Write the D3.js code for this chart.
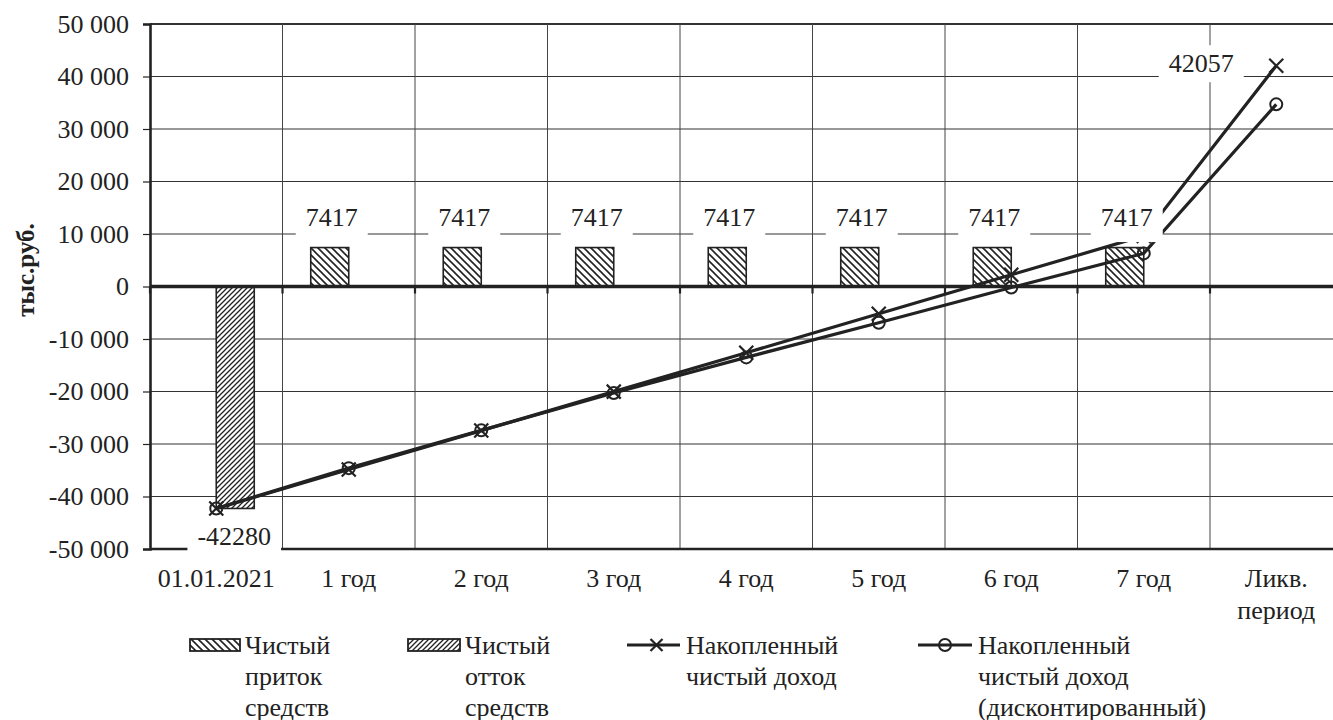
<!DOCTYPE html>
<html><head><meta charset="utf-8">
<script src="https://cdn.jsdelivr.net/npm/d3@7"></script>
<style>
html,body{margin:0;padding:0;background:#fff;}
svg{display:block;}
text{font-family:"Liberation Serif","Times New Roman",serif;fill:#222;}
</style></head>
<body>
<svg id="chart" width="1333" height="720"></svg>
<script>
const categories = ["01.01.2021","1 год","2 год","3 год","4 год","5 год","6 год","7 год","Ликв. период"];
const inflow  = [null,7417,7417,7417,7417,7417,7417,7417,null];
const outflow = [-42280,null,null,null,null,null,null,null,null];
const cumulative = [-42280,-34863,-27446,-20029,-12612,-5195,2222,9639,42057];
const discounted = [-42280,-34600,-27400,-20300,-13500,-6900,-200,6300,34700];
const yTicks = [-50000,-40000,-30000,-20000,-10000,0,10000,20000,30000,40000,50000];
const legendItems = [
  {type:"inflow", lines:["Чистый","приток","средств"]},
  {type:"outflow", lines:["Чистый","отток","средств"]},
  {type:"cum", lines:["Накопленный","чистый доход"]},
  {type:"disc", lines:["Накопленный","чистый доход","(дисконтированный)"]}
];

const svg = d3.select("#chart");
const L = 150, R = 1342.5, T = 24, B = 549;
const ink = "#222";
const fs = 26;

const x = d3.scaleBand().domain(categories).range([L,R]).padding(0);
const x1 = d3.scaleBand().domain(["inflow","outflow"]).range([0,x.bandwidth()]).paddingInner(0).paddingOuter(0.743);
const y = d3.scaleLinear().domain([-50000,50000]).range([B,T]);
const loc = d3.formatLocale({decimal:",",thousands:" ",grouping:[3],currency:["",""],minus:"-"});
const fmt = loc.format(",");

// patterns
const defs = svg.append("defs");
const p1 = defs.append("pattern").attr("id","pIn").attr("patternUnits","userSpaceOnUse").attr("width",7).attr("height",7);
p1.append("rect").attr("width",7).attr("height",7).attr("fill","#fff");
p1.append("path").attr("d","M-2,-2 L9,9 M-2,5 L2,9 M5,-2 L9,2").attr("stroke",ink).attr("stroke-width",1.6);
const p2 = defs.append("pattern").attr("id","pOut").attr("patternUnits","userSpaceOnUse").attr("width",5).attr("height",5);
p2.append("rect").attr("width",5).attr("height",5).attr("fill","#fff");
p2.append("path").attr("d","M-1,6 L6,-1 M-2,2 L2,-2 M3,7 L7,3").attr("stroke",ink).attr("stroke-width",1.3);

// horizontal gridlines
svg.append("g").selectAll("line").data(yTicks).join("line")
  .attr("x1",L).attr("x2",R).attr("y1",d=>y(d)).attr("y2",d=>y(d))
  .attr("stroke","#333").attr("stroke-width",d=>d===50000?1.8:1.1);
// vertical gridlines at category boundaries
svg.append("g").selectAll("line").data(categories.slice(1)).join("line")
  .attr("x1",d=>x(d)).attr("x2",d=>x(d)).attr("y1",T).attr("y2",B)
  .attr("stroke","#444").attr("stroke-width",1);

// bars
svg.append("g").selectAll("rect").data(categories.map((c,i)=>({c,v:inflow[i]})).filter(d=>d.v!=null)).join("rect")
  .attr("x",d=>x(d.c)+x1("inflow")).attr("width",x1.bandwidth())
  .attr("y",d=>y(d.v)).attr("height",d=>y(0)-y(d.v))
  .attr("fill","url(#pIn)").attr("stroke",ink).attr("stroke-width",1.6);
svg.append("g").selectAll("rect").data(categories.map((c,i)=>({c,v:outflow[i]})).filter(d=>d.v!=null)).join("rect")
  .attr("x",d=>x(d.c)+x1("outflow")).attr("width",x1.bandwidth())
  .attr("y",y(0)).attr("height",d=>y(d.v)-y(0))
  .attr("fill","url(#pOut)").attr("stroke",ink).attr("stroke-width",1.6);

// y axis
const yAxis = svg.append("g").attr("transform",`translate(${L},0)`)
  .call(d3.axisLeft(y).tickValues(yTicks).tickFormat(fmt).tickSize(7).tickPadding(14));
yAxis.select(".domain").attr("stroke",ink).attr("stroke-width",2.6);
yAxis.selectAll(".tick line").attr("stroke",ink).attr("stroke-width",1.2);
yAxis.selectAll(".tick text").attr("font-size",fs).attr("font-family","Liberation Serif").attr("fill",ink);

// bottom border
svg.append("line").attr("x1",L).attr("x2",R).attr("y1",B).attr("y2",B).attr("stroke",ink).attr("stroke-width",2.6);

// zero line + ticks
svg.append("line").attr("x1",L).attr("x2",R).attr("y1",y(0)).attr("y2",y(0)).attr("stroke",ink).attr("stroke-width",3.5);
svg.append("g").selectAll("line").data(categories).join("line")
  .attr("x1",d=>x(d)).attr("x2",d=>x(d)).attr("y1",y(0)).attr("y2",y(0)+7)
  .attr("stroke",ink).attr("stroke-width",2.2);

// x labels
const xl = svg.append("g").selectAll("text").data(categories).join("text")
  .attr("x",d=>x(d)+x.bandwidth()/2).attr("y",587)
  .attr("text-anchor","middle").attr("font-size",fs);
xl.each(function(d){
  const parts = d.startsWith("Ликв") ? ["Ликв.","период"] : [d];
  d3.select(this).selectAll("tspan").data(parts).join("tspan")
    .attr("x",x(d)+x.bandwidth()/2).attr("dy",(p,i)=>i?32:0).text(p=>p);
});

// lines
const cx = c => x(c)+x.bandwidth()/2;
const lineGen = d3.line().x(d=>cx(d.c)).y(d=>y(d.v));
const cumData = categories.map((c,i)=>({c,v:cumulative[i]}));
const discData = categories.map((c,i)=>({c,v:discounted[i]}));
svg.append("path").datum(cumData).attr("d",lineGen).attr("fill","none").attr("stroke",ink).attr("stroke-width",3.2);
svg.append("path").datum(discData).attr("d",lineGen).attr("fill","none").attr("stroke",ink).attr("stroke-width",3.2);
svg.append("g").selectAll("path").data(cumData).join("path")
  .attr("d",d=>{const px=cx(d.c),py=y(d.v),s=7;return `M${px-s},${py-s}L${px+s},${py+s}M${px-s},${py+s}L${px+s},${py-s}`;})
  .attr("stroke",ink).attr("stroke-width",2.2);
svg.append("g").selectAll("circle").data(discData).join("circle")
  .attr("cx",d=>cx(d.c)).attr("cy",d=>y(d.v)).attr("r",6)
  .attr("fill","none").attr("stroke",ink).attr("stroke-width",2);

// data labels with white boxes
function boxLabel(cxp, cyp, txt, padX, padTop, padBot){
  const g = svg.append("g");
  const t = g.append("text").attr("x",cxp).attr("y",cyp).attr("text-anchor","middle")
    .attr("dominant-baseline","central").attr("font-size",fs).text(txt);
  const bb = t.node().getBBox();
  g.insert("rect","text").attr("x",bb.x-padX).attr("y",bb.y-padTop).attr("width",bb.width+2*padX).attr("height",bb.height+padTop+padBot).attr("fill","#fff");
}
categories.forEach((c,i)=>{
  if(inflow[i]!=null) boxLabel(x(c)+x1("inflow")+x1.bandwidth()/2+2, y(inflow[i])-30, String(inflow[i]), 10, 3, 10);
});
boxLabel(x(categories[0])+x1("outflow")+x1.bandwidth()/2-1, y(outflow[0])+28, String(outflow[0]), 10, 4, 4);
boxLabel(cx(categories[8])-75, y(cumulative[8])-2, String(cumulative[8]), 10, 4, 4);

// y title
svg.append("text").attr("transform","translate(34,270) rotate(-90)").attr("text-anchor","middle")
  .attr("font-size",25).attr("font-weight","bold").text("тыс.руб.");

// legend
const legX = [190, 408, 627, 918];
const legW = [50, 52, 53, 54];
const lg = svg.append("g").selectAll("g").data(legendItems).join("g")
  .attr("transform",(d,i)=>`translate(${legX[i]},645)`);
lg.each(function(d,i){
  const g = d3.select(this);
  const w = legW[i];
  if(d.type==="inflow"||d.type==="outflow"){
    g.append("rect").attr("x",0).attr("y",-6).attr("width",w).attr("height",12)
      .attr("fill",d.type==="inflow"?"url(#pIn)":"url(#pOut)").attr("stroke",ink).attr("stroke-width",1.8);
  } else {
    g.append("line").attr("x1",0).attr("x2",w).attr("y1",0).attr("y2",0).attr("stroke",ink).attr("stroke-width",3.2);
    if(d.type==="cum"){
      const s=6,m=w/2+3;
      g.append("path").attr("d",`M${m-s},${-s}L${m+s},${s}M${m-s},${s}L${m+s},${-s}`).attr("stroke",ink).attr("stroke-width",2.2);
    } else {
      g.append("circle").attr("cx",w/2).attr("cy",0).attr("r",6).attr("fill","none").attr("stroke",ink).attr("stroke-width",2);
    }
  }
  const tx = w + (i<2?5:6);
  g.append("text").attr("x",tx).attr("y",0).attr("dominant-baseline","central").attr("font-size",fs)
    .selectAll("tspan").data(d.lines).join("tspan").attr("x",tx).attr("dy",(p,j)=>j?31:0).text(p=>p);
});
</script>
</body></html>
